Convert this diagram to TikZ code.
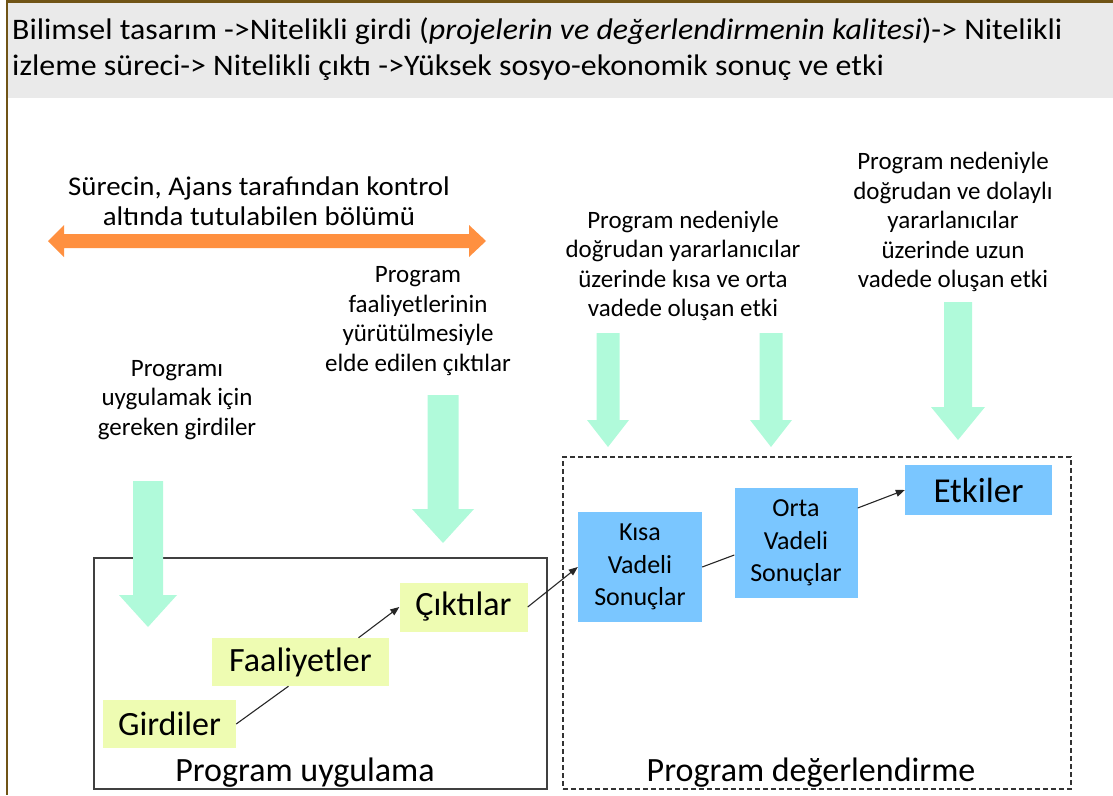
\documentclass[tikz,border=0pt]{standalone}
\usepackage{fontspec}
\setmainfont{Carlito}
\newfontfamily\widesans[FakeStretch=1.07]{Carlito}
\usepackage{tikz}
\usetikzlibrary{arrows.meta,positioning}
\definecolor{framebrown}{RGB}{112,84,22}
\definecolor{headgray}{RGB}{234,234,234}
\definecolor{mintarr}{RGB}{176,250,218}
\definecolor{ctlorange}{RGB}{255,144,64}
\definecolor{implgreen}{RGB}{238,252,178}
\definecolor{evalblue}{RGB}{122,198,255}
% block arrow pointing down: x, top, tip, shaft width, head width, head length
\newcommand{\blockdown}[6]{%
  \fill[mintarr] ({#1-#4/2},{#2}) -- ({#1+#4/2},{#2}) -- ({#1+#4/2},{#3-#6})
    -- ({#1+#5/2},{#3-#6}) -- ({#1},{#3}) -- ({#1-#5/2},{#3-#6})
    -- ({#1-#4/2},{#3-#6}) -- cycle;}

\begin{document}
\begin{tikzpicture}[
    x=1pt, y=-1pt,
    headtext/.style={anchor=base west, inner sep=0pt, font=\widesans\fontsize{29.8}{36}\selectfont},
    note/.style={align=center, inner sep=0pt, font=\fontsize{25}{29.5}\selectfont},
    implbox/.style={rectangle, fill=implgreen, inner sep=0pt, font=\fontsize{34}{40}\selectfont},
    evalbox/.style={rectangle, fill=evalblue, inner sep=0pt, align=center, font=\fontsize{26}{32.5}\selectfont},
    fieldname/.style={anchor=base, inner sep=0pt, font=\fontsize{34}{40}\selectfont},
    plainlink/.style={line width=1.1pt, black!85},
    link/.style={plainlink, -{Triangle[length=9pt,width=7pt]}}
]
    \useasboundingbox (0,0) rectangle (1113,795);

    % Header band
    \fill[headgray] (8,3) rectangle (1113,98);
    \draw[framebrown, line width=2.5pt] (1113,1.25) -- (6.75,1.25) -- (6.75,795);
    \node[headtext] (hdrA) at (12,39) {Bilimsel tasarım ->Nitelikli girdi (\textit{projelerin ve değerlendirmenin kalitesi})-> Nitelikli};
    \node[headtext] (hdrB) at (12,75) {izleme süreci-> Nitelikli çıktı ->Yüksek sosyo-ekonomik sonuç ve etki};

    % Controlled part
    \fill[ctlorange] (48,241) -- (64,225) -- (64,234) -- (469,234) -- (469,225) -- (486,241)
        -- (469,257) -- (469,248) -- (64,248) -- (64,257) -- cycle;
    \node[note, font=\widesans\fontsize{27}{30}\selectfont] (ctlnote) at (259,201) {Sürecin, Ajans tarafından kontrol\\altında tutulabilen bölümü};

    % Notes
    \node[note] (needin) at (177,400) {Programı\\uygulamak için\\gereken girdiler};
    \node[note] (needout) at (418,321) {Program\\faaliyetlerinin\\yürütülmesiyle\\elde edilen çıktılar};
    \node[note] (shortfx) at (683,266) {Program nedeniyle\\doğrudan yararlanıcılar\\üzerinde kısa ve orta\\vadede oluşan etki};
    \node[note] (longfx) at (953,222) {Program nedeniyle\\doğrudan ve dolaylı\\yararlanıcılar\\üzerinde uzun\\vadede oluşan etki};

    % Areas
    \node[draw=black!75, line width=1.3pt, minimum width=453pt, minimum height=231pt, inner sep=0pt] (implarea) at (320.5,673.5) {};
    \node[draw=black!80, line width=1.2pt, dash pattern=on 5pt off 3pt, minimum width=508pt, minimum height=332pt, inner sep=0pt] (evalarea) at (817,623) {};
    \node[fieldname] (impllbl) at (305,781) {Program uygulama};
    \node[fieldname] (evallbl) at (811,781) {Program değerlendirme};

    % Green arrows
    \blockdown{148}{481}{627}{30}{58}{32}
    \blockdown{443}{395}{543}{31}{62}{34}
    \blockdown{608}{333}{447}{23}{42}{27}
    \blockdown{771}{333}{447}{23}{42}{27}
    \blockdown{958}{302}{440}{28}{54}{33}

    % Chain
    \node[implbox, minimum width=133pt, minimum height=48pt] (gird) at (169.5,724) {Girdiler};
    \node[implbox, minimum width=177pt, minimum height=48pt] (faal) at (300.5,662) {Faaliyetler};
    \node[implbox, minimum width=128pt, minimum height=49pt] (cikti) at (463.5,607) {Çıktılar};
    \node[evalbox, minimum width=124pt, minimum height=110pt] (kisa) at (640,567) {Kısa\\Vadeli\\Sonuçlar};
    \node[evalbox, minimum width=123pt, minimum height=110pt] (orta) at (796,543) {Orta\\Vadeli\\Sonuçlar};
    \node[evalbox, minimum width=147pt, minimum height=50pt, font=\fontsize{35}{40}\selectfont] (etki) at (978.5,490) {Etkiler};

    \draw[plainlink] (gird.east) -- ([xshift=-12pt]faal.south);
    \draw[link] ([xshift=58pt]faal.north) -- (cikti.west);
    \draw[link] (cikti.east) -- (kisa.west);
    \draw[plainlink] (kisa.east) -- ([yshift=-12pt]orta.west);
    \draw[link] ([yshift=35pt]orta.east) -- (etki.west);
\end{tikzpicture}
\end{document}
